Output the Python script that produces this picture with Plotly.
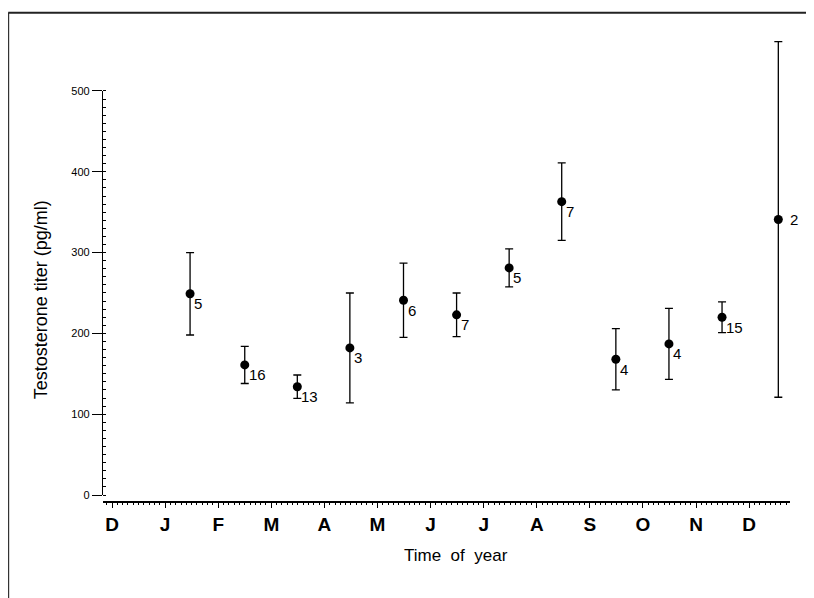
import plotly.graph_objects as go

# ------------------------------------------------------------
# Seasonal testosterone titer (mean +/- error, n per sample)
# x position = months since December (0 = D, 12 = D)
# ------------------------------------------------------------
month_labels = ["D", "J", "F", "M", "A", "M", "J", "J", "A", "S", "O", "N", "D"]
month_pos    = list(range(13))

sample_pos   = [1.47, 2.50, 3.49, 4.48, 5.49, 6.49, 7.48, 8.47, 9.49, 10.49, 11.49, 12.55]
titer_mean   = [249, 161, 134, 182, 241, 223, 281, 363, 168, 187, 220, 341]
titer_err    = [51, 23, 14.5, 68, 46, 27, 23.5, 48, 38, 44, 19, 220]
sample_n     = [5, 16, 13, 3, 6, 7, 5, 7, 4, 4, 15, 2]

y_ticks      = [0, 100, 200, 300, 400, 500]

FONT = "Liberation Sans, Arial, sans-serif"

fig = go.Figure()

fig.add_trace(go.Scatter(
    x       = sample_pos,
    y       = titer_mean,
    mode    = "markers",
    marker  = dict(color="black", size=9),
    error_y = dict(type="data", array=titer_err, visible=True,
                   color="black", thickness=1.3, width=4),
    showlegend = False,
    hoverinfo  = "skip",
))

# empty trace so the decorative y axis (0-500 only) gets drawn
fig.add_trace(go.Scatter(x=[], y=[], yaxis="y2", showlegend=False))

# n labels next to each point (sit just below and right of the dot)
for i, (xp, yp, n) in enumerate(zip(sample_pos, titer_mean, sample_n)):
    last = i == len(sample_n) - 1
    fig.add_annotation(
        x = xp, y = yp, text = str(n), showarrow = False,
        xanchor = "left", yanchor = "middle",
        xshift  = 10 if last else 2,
        yshift  = 0 if last else -10,
        font    = dict(family=FONT, size=15, color="black"),
    )

# page body adds an 8px offset, so margins are trimmed to match
fig.update_layout(
    width  = 814,
    height = 598,
    margin = dict(l=95, r=32, t=28, b=105),
    plot_bgcolor  = "rgba(0,0,0,0)",
    paper_bgcolor = "white",
    font = dict(family=FONT, color="black"),
    xaxis = dict(
        range     = [-0.17, 12.77],
        tickvals  = month_pos,
        ticktext  = [f"<b>{m}</b>" for m in month_labels],
        tickfont  = dict(family=FONT, size=19, color="black"),
        showline  = True, linecolor="black", linewidth=1.5,
        ticks     = "outside", ticklen=5, tickcolor="black", tickwidth=1,
        minor     = dict(ticks="outside", ticklen=2, dtick=0.1, tick0=0,
                         tickcolor="black", tickwidth=1),
        showgrid  = False, zeroline=False,
    ),
    yaxis = dict(
        range = [-7.4, 568],
        visible = False,
        showgrid = False, zeroline = False,
    ),
    yaxis2 = dict(
        domain    = [0.01286, 0.8818],
        range     = [0, 500],
        anchor    = "x",
        tickvals  = y_ticks,
        tickfont  = dict(family=FONT, size=11, color="black"),
        showline  = True, linecolor="black", linewidth=1.3,
        ticks     = "outside", ticklen=10, tickcolor="black", tickwidth=1,
        minor     = dict(ticks="inside", ticklen=3, dtick=10,
                         tickcolor="black", tickwidth=1),
        showgrid  = False, zeroline=False,
    ),
)

# axis titles
fig.add_annotation(
    text = "Time  of  year", xref="paper", yref="paper",
    x = 0.514, y = -0.118, xanchor="center", yanchor="middle",
    showarrow=False,
    font = dict(family=FONT, size=17, color="black"),
)
fig.add_annotation(
    text = "Testosterone titer (pg/ml)", xref="paper", yref="paper",
    x = -0.09, y = 0.432, xanchor="center", yanchor="middle",
    showarrow=False, textangle=-90,
    font = dict(family=FONT, size=18, color="black"),
)

# scanned page frame (left and top edges)
fig.add_shape(type="line", xref="paper", yref="paper",
              x0=-0.138, x1=-0.138, y0=1.05, y1=-0.25,
              line=dict(color="#333333", width=2))
fig.add_shape(type="line", xref="paper", yref="paper",
              x0=-0.138, x1=1.06, y0=1.05, y1=1.05,
              line=dict(color="#222222", width=2))

fig.write_html("out.html")
